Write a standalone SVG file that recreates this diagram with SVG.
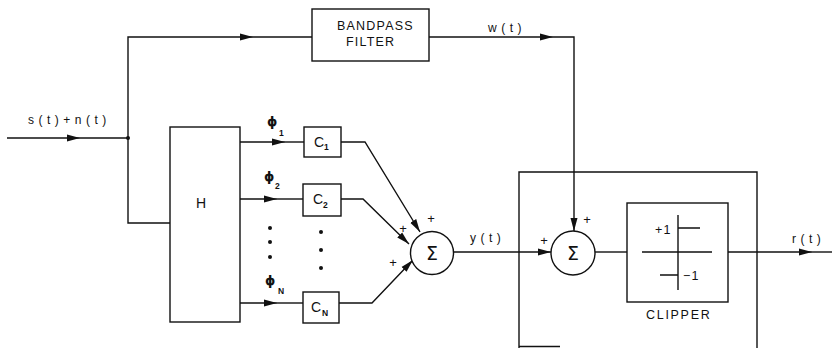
<svg xmlns="http://www.w3.org/2000/svg" width="832" height="348" viewBox="0 0 832 348">
<style>
  .ln{fill:none;stroke:#111;stroke-width:1.4}
  .bx{fill:#fff;stroke:#111;stroke-width:1.4}
  .t{font-family:"Liberation Sans","DejaVu Sans",sans-serif;font-size:12.5px;fill:#111;letter-spacing:1.2px}
  .w{font-family:"Liberation Sans","DejaVu Sans",sans-serif;font-size:12px;fill:#111;letter-spacing:4.5px}
  .cc{font-family:"Liberation Sans","DejaVu Sans",sans-serif;font-size:14px;fill:#111}
  .sub{font-family:"Liberation Sans","DejaVu Sans",sans-serif;font-size:8.5px;fill:#111;font-weight:bold}
  .phi{font-family:"DejaVu Sans","Liberation Sans",sans-serif;font-size:13px;fill:#111;font-weight:bold}
  .sg{font-family:"DejaVu Sans","Liberation Sans",sans-serif;font-size:19px;fill:#111;text-anchor:middle}
  .pl{font-family:"Liberation Sans","DejaVu Sans",sans-serif;font-size:13px;fill:#111;text-anchor:middle}
  .dot{fill:#111}
</style>
<defs>
  <marker id="ar" markerUnits="userSpaceOnUse" markerWidth="14" markerHeight="8" refX="13" refY="4" orient="auto">
    <path d="M0,0.5 L13,4 L0,7.5 Z" fill="#111"/>
  </marker>
</defs>

<g id="connectors">
  <path class="ln" d="M7,138 H80" marker-end="url(#ar)"/>
  <path class="ln" d="M80,138 H128"/>
  <circle class="dot" cx="128" cy="138" r="2"/>
  <path class="ln" d="M128,138 V37 H253" marker-end="url(#ar)"/>
  <path class="ln" d="M253,37 H312"/>
  <path class="ln" d="M128,138 V223 H170"/>
  <path class="ln" d="M429,37 H553" marker-end="url(#ar)"/>
  <path class="ln" d="M553,37 H574 V231" marker-end="url(#ar)"/>
  <path class="ln" d="M240,142 H285" marker-end="url(#ar)"/>
  <path class="ln" d="M285,142 H304"/>
  <path class="ln" d="M240,199 H277" marker-end="url(#ar)"/>
  <path class="ln" d="M277,199 H303"/>
  <path class="ln" d="M240,303 H277" marker-end="url(#ar)"/>
  <path class="ln" d="M277,303 H303"/>
  <path class="ln" d="M341,142 H365 L420,232" marker-end="url(#ar)"/>
  <path class="ln" d="M341,199 H363 L409,244" marker-end="url(#ar)"/>
  <path class="ln" d="M339,303 H372 L413,260" marker-end="url(#ar)"/>
  <path class="ln" d="M454,252 H551" marker-end="url(#ar)"/>
  <path class="ln" d="M595,252 H627"/>
  <path class="ln" d="M728,252 H812" marker-end="url(#ar)"/>
  <path class="ln" d="M812,252 H832"/>
</g>

<g id="input-label">
  <text class="w" x="28" y="124">s(t)+n(t)</text>
</g>

<g id="bandpass">
  <rect class="bx" x="312" y="9" width="117" height="52"/>
  <text class="t" x="337" y="30">BANDPASS</text>
  <text class="t" x="346" y="46">FILTER</text>
</g>
<g id="w-label"><text class="w" x="488" y="32">w(t)</text></g>

<g id="H">
  <rect class="bx" x="170" y="127" width="70" height="195"/>
  <text class="cc" x="196" y="208">H</text>
</g>

<g id="phi-labels">
  <text class="phi" x="267" y="126">ϕ</text><text class="sub" x="279" y="136">1</text>
  <text class="phi" x="264" y="181">ϕ</text><text class="sub" x="275" y="189">2</text>
  <text class="phi" x="265" y="285">ϕ</text><text class="sub" x="278" y="294">N</text>
</g>

<g id="C1">
  <rect class="bx" x="304" y="127" width="37" height="30"/>
  <text class="cc" x="314" y="147">C</text><text class="sub" x="324" y="150">1</text>
</g>
<g id="C2">
  <rect class="bx" x="303" y="184" width="38" height="32"/>
  <text class="cc" x="313" y="204">C</text><text class="sub" x="323" y="208">2</text>
</g>
<g id="CN">
  <rect class="bx" x="303" y="292" width="36" height="31"/>
  <text class="cc" x="311" y="312">C</text><text class="sub" x="322" y="316">N</text>
</g>

<g id="dots">
  <circle class="dot" cx="270" cy="228" r="2"/>
  <circle class="dot" cx="270" cy="242" r="2"/>
  <circle class="dot" cx="270" cy="257" r="2"/>
  <circle class="dot" cx="321" cy="232" r="2"/>
  <circle class="dot" cx="321" cy="250" r="2"/>
  <circle class="dot" cx="321" cy="268" r="2"/>
</g>

<g id="sum1">
  <circle class="bx" cx="432" cy="253" r="21.5"/>
  <text class="sg" x="432" y="260">Σ</text>
  <text class="pl" x="431" y="223">+</text>
  <text class="pl" x="403" y="233">+</text>
  <text class="pl" x="393" y="267">+</text>
</g>
<g id="y-label"><text class="w" x="470" y="242">y(t)</text></g>

<g id="clipper-system">
  <path class="ln" d="M519,348 V172 H757 V348"/>
  <path class="ln" d="M519,346.5 H560" stroke-width="1"/>
</g>

<g id="sum2">
  <circle class="bx" cx="573" cy="253" r="22"/>
  <text class="sg" x="573" y="260">Σ</text>
  <text class="pl" x="544" y="245">+</text>
  <text class="pl" x="587" y="224">+</text>
</g>

<g id="clipper">
  <rect class="bx" x="627" y="203" width="101" height="99"/>
  <path class="ln" d="M642,252 H712 M678,215 V290 M678,228 H700 M660,275 H678"/>
  <text class="t" x="655" y="234">+1</text>
  <text class="t" x="683" y="280">−1</text>
  <text class="t" x="646" y="319" style="letter-spacing:1.7px">CLIPPER</text>
</g>
<g id="r-label"><text class="w" x="792" y="243">r(t)</text></g>
</svg>
